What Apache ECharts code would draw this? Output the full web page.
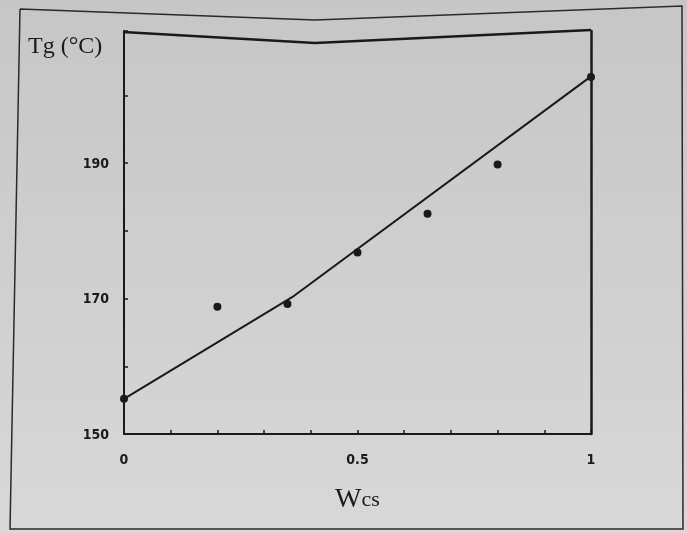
<!DOCTYPE html>
<html>
<head>
<meta charset="utf-8">
<script src="https://cdn.jsdelivr.net/npm/echarts@6/dist/echarts.min.js"></script>
<style>
html,body{margin:0;padding:0;background:#c9c9c9;}
#chart{width:687px;height:533px;}
</style>
</head>
<body>
<div id="chart"></div>
<script>
// Measured data (Wcs fraction vs Tg)
const wcs = [0, 0.2, 0.35, 0.5, 0.65, 0.8, 1];
const tg = [155.2, 168.8, 169.2, 176.8, 182.5, 189.8, 202.7];
// Drawn trend line vertices
const fitX = [0, 0.36, 1];
const fitY = [155.2, 170.2, 202.8];
// Labelled ticks
const xTickLabels = [0, 0.5, 1];
const yTickLabels = [150, 170, 190];

const ink = '#1a1a1a';
const chart = echarts.init(document.getElementById('chart'));
chart.setOption({
  backgroundColor: {
    type: 'linear', x: 0, y: 0, x2: 0, y2: 1,
    colorStops: [{offset: 0, color: '#c6c6c6'}, {offset: 1, color: '#d8d8d8'}]
  },
  animation: false,
  grid: {left: 124, right: 96, top: 31, bottom: 99},
  xAxis: [{
    type: 'value', min: 0, max: 1, interval: 0.1,
    axisLine: {lineStyle: {color: ink, width: 2}},
    axisTick: {inside: true, length: 4, lineStyle: {color: ink, width: 1.5}},
    splitLine: {show: false},
    axisLabel: {
      margin: 19, color: ink, fontSize: 14, fontWeight: 'bold',
      fontFamily: 'DejaVu Sans Condensed, DejaVu Sans',
      formatter: v => xTickLabels.some(t => Math.abs(t - v) < 1e-6) ? String(+v.toFixed(2)) : ''
    },
    name: '{a|W}{b|cs}', nameLocation: 'middle', nameGap: 52,
    nameTextStyle: {
      rich: {
        a: {fontFamily: 'Liberation Serif', fontSize: 28, color: ink},
        b: {fontFamily: 'Liberation Serif', fontSize: 22, color: ink}
      }
    }
  }],
  yAxis: [{
    type: 'value', min: 150, max: 209.5, interval: 10,
    axisLine: {show: true, lineStyle: {color: ink, width: 2}},
    axisTick: {show: true, inside: true, length: 4, lineStyle: {color: ink, width: 1.5}},
    splitLine: {show: false},
    axisLabel: {
      margin: 15, color: ink, fontSize: 14, fontWeight: 'bold', verticalAlign: 'top', padding: [-6, 0, 0, 0],
      fontFamily: 'DejaVu Sans Condensed, DejaVu Sans',
      formatter: v => yTickLabels.includes(Math.round(v)) ? String(Math.round(v)) : ''
    }
  }, {
    type: 'value', min: 150, max: 209.5, position: 'right',
    axisLine: {show: true, lineStyle: {color: ink, width: 2.5}},
    axisTick: {show: false}, axisLabel: {show: false}, splitLine: {show: false}
  }],
  graphic: [
    {type: 'text', left: 28, top: 35, style: {text: 'Tg (°C)', fontFamily: 'Liberation Serif', fontSize: 24, fill: ink}},
    {type: 'polyline', shape: {points: [[123, 32], [315, 43], [591, 30]]}, style: {stroke: ink, lineWidth: 2.5, fill: null}},
    {type: 'polyline', shape: {points: [[20, 9], [315, 20], [682, 6], [683, 529], [10, 529], [20, 9]]}, style: {stroke: '#2a2a2a', lineWidth: 1.5, fill: null}}
  ],
  series: [{
    type: 'line',
    data: fitX.map((x, i) => [x, fitY[i]]),
    showSymbol: false, symbol: 'none',
    lineStyle: {color: ink, width: 2},
    z: 3
  }, {
    type: 'scatter',
    data: wcs.map((x, i) => [x, tg[i]]),
    symbol: 'circle', symbolSize: 8,
    itemStyle: {color: ink, opacity: 1},
    z: 4
  }]
});
</script>
</body>
</html>
